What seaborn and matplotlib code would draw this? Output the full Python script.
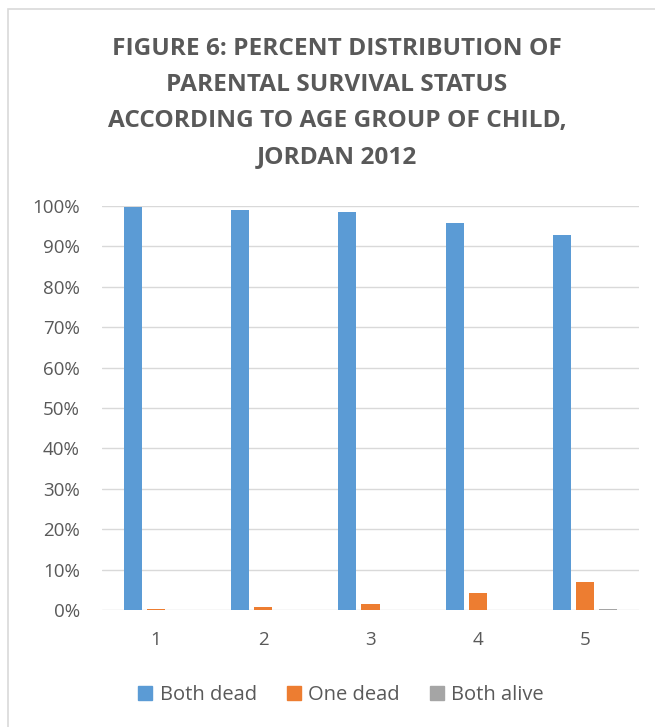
import matplotlib
matplotlib.use("Agg")
import matplotlib.pyplot as plt
import matplotlib.patches as mpatches
import pandas as pd
import seaborn as sns

# DATA
age_groups = ["1", "2", "3", "4", "5"]
both_dead = [99.8, 99.1, 98.5, 95.8, 92.9]
one_dead = [0.2, 0.8, 1.4, 4.1, 7.0]
both_alive = [0.1, 0.1, 0.1, 0.1, 0.2]
series_names = ["Both dead", "One dead", "Both alive"]
colors = ["#5B9BD5", "#ED7D31", "#A5A5A5"]

df = pd.DataFrame({
    "age": age_groups * 3,
    "status": [s for s in series_names for _ in age_groups],
    "pct": both_dead + one_dead + both_alive,
})

sns.set_theme(style="white")
plt.rcParams["font.family"] = ["Open Sans", "DejaVu Sans"]
text_col = "#595959"

fig = plt.figure(figsize=(6.55, 7.27), dpi=100)
ax = fig.add_axes([102 / 655, 1 - 610 / 727, 537 / 655, 404 / 727])

sns.barplot(
    data=df, x="age", y="pct", hue="status",
    hue_order=series_names, palette=colors,
    width=0.645, gap=0.22, ax=ax, legend=False,
    saturation=1, edgecolor="none",
)

ax.set_ylim(0, 100)
ax.set_xlim(-0.5, 4.5)
ax.set_yticks(range(0, 101, 10))
ax.set_yticklabels([f"{v}%" for v in range(0, 101, 10)])
ax.yaxis.grid(True, color="#D9D9D9", linewidth=1)
ax.set_axisbelow(True)
for s in ax.spines.values():
    s.set_visible(False)
ax.set_xlabel("")
ax.set_ylabel("")
ax.tick_params(axis="both", colors=text_col, labelsize=13.5, length=0)
ax.tick_params(axis="y", pad=16)
ax.tick_params(axis="x", pad=15)

# title
fig.text(
    337 / 655, 1 - 37 / 727,
    "FIGURE 6: PERCENT DISTRIBUTION OF\nPARENTAL SURVIVAL STATUS\n"
    "ACCORDING TO AGE GROUP OF CHILD,\nJORDAN 2012",
    ha="center", va="top", fontsize=17.6, fontweight="bold",
    color=text_col, linespacing=1.67,
)

# legend
handles = [mpatches.Patch(color=c, label=n) for c, n in zip(colors, series_names)]
fig.legend(
    handles=handles, loc="center", bbox_to_anchor=(341 / 655, 1 - 695 / 727),
    ncol=3, frameon=False, fontsize=14.5, labelcolor=text_col,
    handlelength=0.7, handleheight=0.7, handletextpad=0.35, columnspacing=1.5,
)

# chart border
fig.patches.append(mpatches.Rectangle(
    (8 / 655, -0.1), 1.2, 1.1 - 9 / 727,
    transform=fig.transFigure, fill=False, edgecolor="#D9D9D9", linewidth=1.2,
))

fig.savefig("out.png", dpi=100)
